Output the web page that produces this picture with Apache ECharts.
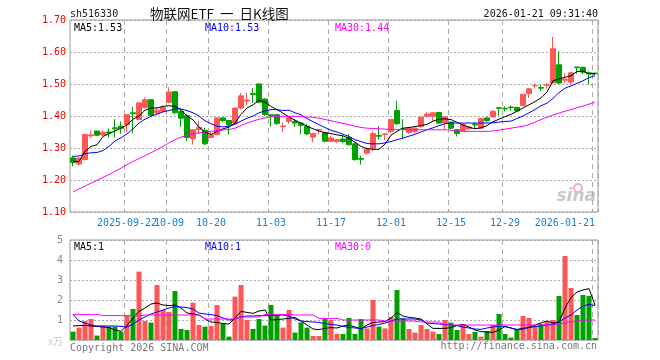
<!DOCTYPE html>
<html><head><meta charset="utf-8">
<script src="https://cdn.jsdelivr.net/npm/echarts@6/dist/echarts.min.js"></script>
<style>html,body{margin:0;padding:0;background:#fff}#c{width:660px;height:360px}</style>
</head><body><div id="c"></div><script>
const dates = [
'2025-09-09','2025-09-10','2025-09-11','2025-09-12','2025-09-15','2025-09-16','2025-09-17','2025-09-18','2025-09-19','2025-09-22',
'2025-09-23','2025-09-24','2025-09-25','2025-09-26','2025-09-29','2025-09-30','2025-10-09','2025-10-10','2025-10-13','2025-10-14',
'2025-10-15','2025-10-16','2025-10-17','2025-10-20','2025-10-21','2025-10-22','2025-10-23','2025-10-24','2025-10-27','2025-10-28',
'2025-10-29','2025-10-30','2025-10-31','2025-11-03','2025-11-04','2025-11-05','2025-11-06','2025-11-07','2025-11-10','2025-11-11',
'2025-11-12','2025-11-13','2025-11-14','2025-11-17','2025-11-18','2025-11-19','2025-11-20','2025-11-21','2025-11-24','2025-11-25',
'2025-11-26','2025-11-27','2025-11-28','2025-12-01','2025-12-02','2025-12-03','2025-12-04','2025-12-05','2025-12-08','2025-12-09',
'2025-12-10','2025-12-11','2025-12-12','2025-12-15','2025-12-16','2025-12-17','2025-12-18','2025-12-19','2025-12-22','2025-12-23',
'2025-12-25','2025-12-26','2025-12-29','2025-12-30','2025-12-31','2026-01-05','2026-01-06','2026-01-07','2026-01-08','2026-01-09',
'2026-01-12','2026-01-13','2026-01-14','2026-01-15','2026-01-16','2026-01-19','2026-01-20','2026-01-21'];
const tickDates = ['2025-09-22','2025-10-09','2025-10-20','2025-11-03','2025-11-17','2025-12-01','2025-12-15','2025-12-29','2026-01-21'];
const tickLabels = ['2025-09-22','10-09','10-20','11-03','11-17','12-01','12-15','12-29','2026-01-21'];

const openP = [1.269,1.250,1.264,1.338,1.353,1.341,1.350,1.363,1.368,1.373,
1.410,1.389,1.427,1.451,1.410,1.415,1.443,1.476,1.414,1.401,
1.329,1.358,1.355,1.333,1.342,1.394,1.386,1.378,1.425,1.447,
1.470,1.500,1.453,1.404,1.404,1.367,1.383,1.383,1.378,1.368,
1.334,1.356,1.347,1.321,1.320,1.328,1.333,1.313,1.267,1.284,
1.300,1.339,1.342,1.352,1.417,1.360,1.349,1.352,1.368,1.399,
1.399,1.411,1.378,1.381,1.357,1.355,1.360,1.374,1.362,1.394,
1.397,1.426,1.424,1.428,1.427,1.433,1.470,1.494,1.489,1.496,
1.503,1.560,1.512,1.506,1.553,1.552,1.535,1.534];
const closeP = [1.255,1.268,1.342,1.341,1.340,1.349,1.347,1.360,1.362,1.404,
1.407,1.441,1.451,1.402,1.418,1.426,1.475,1.410,1.393,1.333,
1.357,1.365,1.313,1.341,1.394,1.386,1.372,1.425,1.463,1.450,
1.467,1.443,1.405,1.400,1.377,1.369,1.394,1.378,1.371,1.344,
1.345,1.358,1.321,1.331,1.326,1.320,1.310,1.264,1.265,1.297,
1.345,1.337,1.344,1.389,1.376,1.358,1.362,1.362,1.396,1.406,
1.410,1.378,1.397,1.362,1.345,1.373,1.365,1.372,1.392,1.386,
1.415,1.424,1.422,1.426,1.416,1.468,1.485,1.496,1.487,1.498,
1.610,1.503,1.515,1.535,1.551,1.537,1.532,1.532];
const lowP = [1.243,1.245,1.262,1.332,1.337,1.337,1.333,1.333,1.344,1.350,
1.346,1.386,1.423,1.399,1.402,1.411,1.440,1.405,1.366,1.321,
1.311,1.345,1.309,1.329,1.340,1.380,1.342,1.375,1.420,1.435,
1.441,1.440,1.400,1.367,1.372,1.350,1.375,1.366,1.342,1.341,
1.318,1.342,1.318,1.318,1.316,1.316,1.308,1.260,1.248,1.279,
1.290,1.326,1.325,1.345,1.372,1.328,1.344,1.347,1.363,1.395,
1.385,1.375,1.357,1.359,1.336,1.352,1.357,1.360,1.360,1.380,
1.395,1.401,1.414,1.416,1.414,1.430,1.456,1.486,1.478,1.485,
1.501,1.500,1.501,1.500,1.532,1.530,1.498,1.528];
const highP = [1.276,1.272,1.345,1.355,1.354,1.355,1.361,1.390,1.383,1.405,
1.428,1.442,1.458,1.453,1.427,1.433,1.490,1.478,1.420,1.405,
1.358,1.385,1.363,1.350,1.396,1.396,1.387,1.427,1.472,1.472,
1.488,1.502,1.455,1.406,1.406,1.380,1.398,1.390,1.380,1.375,
1.347,1.360,1.350,1.338,1.328,1.338,1.343,1.316,1.276,1.302,
1.352,1.368,1.346,1.390,1.448,1.390,1.364,1.366,1.399,1.412,
1.412,1.413,1.399,1.382,1.358,1.375,1.368,1.380,1.394,1.398,
1.418,1.426,1.430,1.433,1.428,1.469,1.487,1.502,1.498,1.503,
1.647,1.602,1.534,1.537,1.553,1.555,1.539,1.536];

const ma5 = [1.258,1.258,1.290,1.305,1.310,1.336,1.345,1.353,1.362,1.372,
1.390,1.400,1.418,1.425,1.425,1.430,1.432,1.430,1.420,1.400,
1.388,1.365,1.350,1.342,1.352,1.360,1.365,1.378,1.405,1.425,
1.435,1.449,1.443,1.430,1.420,1.409,1.397,1.387,1.378,1.368,
1.360,1.353,1.348,1.345,1.341,1.338,1.330,1.318,1.305,1.298,
1.296,1.296,1.312,1.340,1.352,1.362,1.364,1.367,1.370,1.374,
1.384,1.390,1.391,1.389,1.380,1.372,1.365,1.360,1.363,1.370,
1.382,1.390,1.398,1.405,1.415,1.425,1.435,1.445,1.457,1.475,
1.510,1.516,1.521,1.526,1.539,1.540,1.532,1.532];
const ma10 = [1.274,1.275,1.282,1.285,1.286,1.292,1.305,1.322,1.332,1.344,
1.360,1.378,1.390,1.399,1.406,1.413,1.417,1.422,1.422,1.417,
1.410,1.400,1.385,1.376,1.368,1.366,1.368,1.374,1.384,1.393,
1.400,1.410,1.416,1.420,1.420,1.417,1.418,1.410,1.404,1.392,
1.382,1.373,1.364,1.355,1.350,1.343,1.336,1.326,1.320,1.314,
1.313,1.313,1.316,1.320,1.326,1.331,1.337,1.343,1.350,1.357,
1.363,1.370,1.376,1.378,1.378,1.378,1.378,1.378,1.378,1.378,
1.379,1.381,1.383,1.384,1.392,1.400,1.410,1.420,1.432,1.440,
1.455,1.473,1.487,1.494,1.502,1.510,1.520,1.526];
const ma30 = [1.163,1.172,1.181,1.190,1.199,1.208,1.217,1.227,1.237,1.248,
1.258,1.267,1.276,1.285,1.295,1.305,1.316,1.326,1.334,1.339,
1.344,1.347,1.350,1.352,1.354,1.356,1.358,1.362,1.370,1.378,
1.384,1.390,1.394,1.397,1.398,1.399,1.399,1.399,1.398,1.397,
1.396,1.393,1.389,1.385,1.381,1.377,1.373,1.368,1.364,1.362,
1.361,1.360,1.359,1.358,1.358,1.357,1.357,1.357,1.357,1.357,
1.357,1.357,1.357,1.356,1.353,1.352,1.352,1.352,1.352,1.352,
1.353,1.356,1.359,1.362,1.365,1.368,1.373,1.381,1.389,1.396,
1.403,1.409,1.415,1.420,1.426,1.431,1.437,1.443];

const volume = [0.42,0.62,0.95,1.05,0.22,0.72,0.67,0.67,0.42,1.22,
1.55,3.42,0.95,0.87,2.75,1.50,1.40,2.45,0.55,0.50,
1.87,0.75,0.67,0.70,1.75,0.80,0.17,2.17,2.75,1.00,
0.55,1.05,0.72,1.75,1.25,0.62,1.50,0.37,0.88,0.62,
0.20,0.20,1.05,1.00,0.30,0.30,1.10,0.30,1.05,0.58,
2.00,0.67,0.58,1.15,2.50,1.08,0.55,0.37,0.75,0.55,
0.42,0.30,1.00,0.87,0.50,0.80,0.30,0.40,0.17,0.45,
0.75,1.30,0.30,0.12,0.50,1.20,1.10,0.70,0.80,0.90,
1.00,2.20,4.20,2.60,1.25,2.25,2.20,0.10];
const volUp = [0,1,1,1,0,1,0,0,0,1, 0,1,1,0,1,1,1,0,0,0, 1,1,0,1,1,0,0,1,1,1,
0,0,0,0,0,1,1,0,0,0, 1,1,0,1,1,0,0,0,0,1, 1,0,1,1,0,0,1,1,1,1,
1,0,1,0,0,1,1,0,1,0, 1,0,0,0,0,1,1,1,0,1, 1,0,1,1,0,0,0,0];
const volMa5 = [0.70,0.72,0.73,0.70,0.68,0.65,0.62,0.50,0.43,0.73,
1.10,1.43,1.60,1.80,1.85,1.75,1.72,1.75,1.60,1.35,
1.30,1.25,1.05,0.90,0.88,0.82,0.80,1.10,1.43,1.38,
1.33,1.45,1.50,1.00,1.02,1.05,1.08,1.13,0.95,0.75,
0.55,0.52,0.58,0.62,0.60,0.70,0.75,0.65,0.55,0.75,
0.87,0.90,0.92,1.10,1.37,1.20,1.13,1.10,1.05,0.80,
0.58,0.58,0.58,0.62,0.72,0.78,0.65,0.50,0.42,0.40,
0.38,0.50,0.67,0.60,0.53,0.58,0.63,0.75,0.85,0.95,
0.85,0.90,1.60,2.12,2.40,2.50,2.57,1.75];
const volMa10 = [1.28,0.95,0.85,0.75,0.70,0.70,0.70,0.70,0.68,0.65,
0.80,1.00,1.15,1.30,1.40,1.50,1.60,1.67,1.65,1.62,
1.55,1.35,1.30,1.27,1.22,1.10,1.00,1.05,1.17,1.20,
1.20,1.22,1.22,1.23,1.24,1.25,1.20,1.05,0.95,0.92,
0.90,0.88,0.82,0.78,0.75,0.68,0.63,0.60,0.58,0.65,
0.72,0.78,0.85,0.95,1.05,1.05,1.05,1.05,1.00,0.85,
0.82,0.80,0.77,0.75,0.72,0.65,0.60,0.55,0.53,0.60,
0.65,0.70,0.68,0.60,0.50,0.55,0.62,0.67,0.70,0.75,
0.80,0.90,1.10,1.25,1.50,1.70,1.78,1.72];
const volMa30 = [1.28,1.28,1.28,1.28,1.28,1.22,1.22,1.22,1.22,1.22,
1.22,1.20,1.25,1.25,1.25,1.25,1.25,1.25,1.25,1.25,
1.25,1.25,1.05,1.05,1.05,1.05,1.05,1.05,1.15,1.15,
1.15,1.15,1.28,1.28,1.28,1.28,1.28,1.25,1.25,1.25,
1.25,1.08,1.08,1.08,1.08,1.00,1.00,1.00,1.00,1.00,
1.00,1.00,0.95,0.95,0.95,0.95,0.95,0.95,0.90,0.90,
0.90,0.90,0.75,0.75,0.75,0.75,0.75,0.75,0.75,0.75,
0.75,0.75,0.75,0.75,0.75,0.75,0.75,0.75,0.75,0.75,
0.75,0.80,0.85,0.92,0.95,1.00,1.00,1.00];

const RED = '#ff5656', GREEN = '#00a000';
const MONO = '"DejaVu Sans Mono", "Liberation Mono", monospace';
const tickSet = new Set(tickDates);
const showTick = (i, v) => tickSet.has(v);
// labels are split over two axes so that touching labels are both kept
const firstLabelOnly = (i, v) => v === tickDates[0];
const otherLabels = (i, v) => tickSet.has(v) && v !== tickDates[0];
const labelText = v => tickLabels[tickDates.indexOf(v)] || '';

const chart = echarts.init(document.getElementById('c'), null, {renderer: 'canvas'});
const grids = [
  {left: 70, right: 62, top: 20, height: 192, show: true, borderColor: '#999', borderWidth: 1, backgroundColor: 'transparent'},
  {left: 70, right: 62, top: 240, height: 100, show: true, borderColor: '#999', borderWidth: 1, backgroundColor: 'transparent'}
];
const dashed = {show: true, interval: showTick, lineStyle: {color: '#aaa', type: [5, 4], width: 1}};
const dotted = {show: true, lineStyle: {color: '#aaa', type: [2, 2], width: 1}};
const xLabelBase = {color: '#1a7fd0', fontFamily: MONO, fontSize: 10, margin: 6,
  showMinLabel: true, showMaxLabel: true, hideOverlap: false, formatter: labelText};

chart.setOption({
  animation: false,
  backgroundColor: '#fff',
  grid: grids,
  xAxis: [
    {type: 'category', gridIndex: 0, data: dates, boundaryGap: true,
     axisLine: {show: false}, axisTick: {show: true, inside: true, length: 3, interval: showTick, lineStyle: {color: '#999'}},
     axisLabel: Object.assign({}, xLabelBase, {interval: otherLabels, alignMaxLabel: 'right'}),
     splitLine: dashed},
    {type: 'category', gridIndex: 1, data: dates, boundaryGap: true,
     axisLine: {show: false}, axisTick: {show: false}, axisLabel: {show: false},
     splitLine: dashed},
    {type: 'category', gridIndex: 0, data: dates, boundaryGap: true, position: 'bottom',
     axisLine: {show: false}, axisTick: {show: false}, splitLine: {show: false},
     axisLabel: Object.assign({}, xLabelBase, {interval: firstLabelOnly})}
  ],
  yAxis: [
    {type: 'value', gridIndex: 0, min: 1.1, max: 1.7, interval: 0.1, position: 'left',
     axisLine: {show: false}, axisTick: {show: false},
     axisLabel: {color: '#ee0000', fontFamily: MONO, fontSize: 10, margin: 4, formatter: v => v.toFixed(2)},
     splitLine: dotted},
    {type: 'value', gridIndex: 1, min: 0, max: 5, interval: 1,
     axisLine: {show: false}, axisTick: {show: false},
     axisLabel: {color: '#888', fontFamily: MONO, fontSize: 10, margin: 7, formatter: v => v === 0 ? '' : String(v)},
     splitLine: dotted}
  ],
  series: [
    {type: 'candlestick', xAxisIndex: 0, yAxisIndex: 0, barWidth: 5,
     data: dates.map((d, i) => [openP[i], closeP[i], lowP[i], highP[i]]),
     itemStyle: {color: RED, color0: GREEN, borderColor: RED, borderColor0: GREEN, borderWidth: 1}},
    {type: 'line', xAxisIndex: 0, yAxisIndex: 0, data: ma5, showSymbol: false, lineStyle: {color: '#000', width: 1}},
    {type: 'line', xAxisIndex: 0, yAxisIndex: 0, data: ma10, showSymbol: false, lineStyle: {color: '#0000ff', width: 1}},
    {type: 'line', xAxisIndex: 0, yAxisIndex: 0, data: ma30, showSymbol: false, lineStyle: {color: '#ff00ff', width: 1}},
    {type: 'bar', xAxisIndex: 1, yAxisIndex: 1, barWidth: 5,
     data: volume.map((v, i) => ({value: v, itemStyle: {color: volUp[i] ? RED : GREEN}}))},
    {type: 'line', xAxisIndex: 1, yAxisIndex: 1, data: volMa5, showSymbol: false, lineStyle: {color: '#000', width: 1}},
    {type: 'line', xAxisIndex: 1, yAxisIndex: 1, data: volMa10, showSymbol: false, lineStyle: {color: '#0000ff', width: 1}},
    {type: 'line', xAxisIndex: 1, yAxisIndex: 1, data: volMa30, showSymbol: false, lineStyle: {color: '#ff00ff', width: 1}}
  ],
  graphic: [
    {type: 'text', x: 70, y: 14, style: {text: 'sh516330', fill: '#222', font: '10px ' + MONO, textVerticalAlign: 'middle'}},
    {type: 'text', x: 150, y: 14, style: {text: '物联网ETF  一  日K线图', fill: '#111', font: '13.5px "Noto Sans CJK SC", sans-serif', textVerticalAlign: 'middle'}},
    {type: 'text', x: 598, y: 14, style: {text: '2026-01-21 09:31:40', fill: '#111', font: '10px ' + MONO, textAlign: 'right', textVerticalAlign: 'middle'}},
    {type: 'text', x: 74, y: 28, style: {text: 'MA5:1.53', fill: '#000', font: '10px ' + MONO, textVerticalAlign: 'middle'}},
    {type: 'text', x: 205, y: 28, style: {text: 'MA10:1.53', fill: '#0000ff', font: '10px ' + MONO, textVerticalAlign: 'middle'}},
    {type: 'text', x: 335, y: 28, style: {text: 'MA30:1.44', fill: '#ff00ff', font: '10px ' + MONO, textVerticalAlign: 'middle'}},
    {type: 'text', x: 74, y: 247, style: {text: 'MA5:1', fill: '#000', font: '10px ' + MONO, textVerticalAlign: 'middle'}},
    {type: 'text', x: 205, y: 247, style: {text: 'MA10:1', fill: '#0000ff', font: '10px ' + MONO, textVerticalAlign: 'middle'}},
    {type: 'text', x: 335, y: 247, style: {text: 'MA30:0', fill: '#ff00ff', font: '10px ' + MONO, textVerticalAlign: 'middle'}},
    {type: 'text', x: 63, y: 341, style: {text: 'x万', fill: '#ccc', font: '10px "Noto Sans CJK SC", sans-serif', textAlign: 'right', textVerticalAlign: 'middle'}},
    {type: 'text', x: 70, y: 348, style: {text: 'Copyright 2026 SINA.COM', fill: '#777', font: '10px ' + MONO, textVerticalAlign: 'middle'}},
    {type: 'text', x: 597, y: 346, style: {text: 'http://finance.sina.com.cn', fill: '#777', font: '10px ' + MONO, textAlign: 'right', textVerticalAlign: 'middle'}},
    {type: 'circle', shape: {cx: 578, cy: 188, r: 4}, style: {fill: 'none', stroke: '#f3b0b0', lineWidth: 2}},
    {type: 'text', x: 596, y: 197, style: {text: 'sina', fill: '#c8c8c8', font: 'italic bold 17px "DejaVu Sans", sans-serif', textAlign: 'right', textVerticalAlign: 'middle'}}
  ]
});
</script></body></html>
